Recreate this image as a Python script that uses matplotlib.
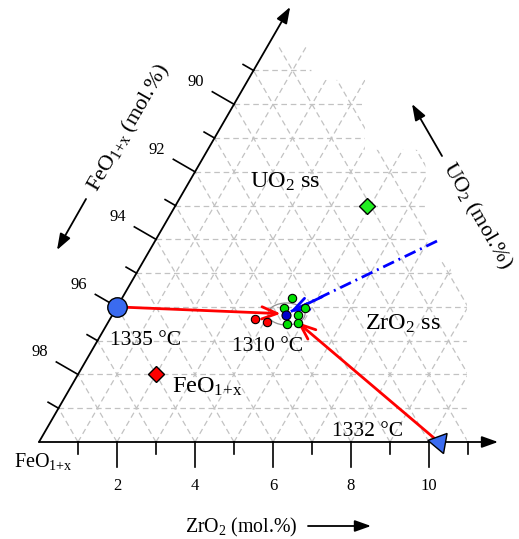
import numpy as np
import matplotlib
matplotlib.use("Agg")
import matplotlib.pyplot as plt
from matplotlib.patches import Polygon, Ellipse, FancyArrowPatch

plt.rcParams['font.family'] = ['Liberation Serif', 'DejaVu Serif']
plt.rcParams['mathtext.fontset'] = 'custom'
plt.rcParams['mathtext.rm'] = 'Liberation Serif'
plt.rcParams['mathtext.it'] = 'Liberation Serif:italic'

# ---------------- data (ZrO2 mol.%, UO2 mol.%) ----------------
zro2_ticks = [2, 4, 6, 8, 10]
zro2_tick_labels = ["2", "4", "6", "8", "10"]
uo2_ticks = [2, 4, 6, 8, 10]
feo_tick_labels = ["98", "96", "94", "92", "90"]

liquid_feo_side = (0.0, 4.0)     # blue circle, 1335 C
liquid_zro2_side = (10.25, 0.0)  # blue triangle, 1332 C
eutectic = (4.45, 3.76)          # blue dot, 1310 C
feo_phase = (2.0, 2.0)           # red diamond
uo2_phase = (4.9, 7.0)           # green diamond

green_z = [4.36, 4.29, 4.84, 4.77, 4.61, 4.89]
green_u = [4.27, 3.98, 3.96, 3.76, 3.49, 3.52]
red_z = [3.72, 4.07]
red_u = [3.64, 3.54]

arrow1_end = (4.30, 3.80)
arrow2_end = (4.85, 3.55)
blue_line_start = (7.23, 5.95)
blue_line_end = (4.51, 3.85)

FEO = r"FeO$_{\mathrm{1{+}x}}$"

# ---------------- geometry helpers ----------------
S3 = np.sqrt(3) / 2
def tern(z, u):
    z = np.asarray(z, float); u = np.asarray(u, float)
    return z + u / 2, u * S3

PX = 39.0; OX = 39.0; OY = 442.0
W, H = 519, 539
def P(x, y):  # pixel position -> data position (for layout of texts)
    return (x - OX) / PX, (OY - y) / PX

fig = plt.figure(figsize=(W / 100, H / 100), dpi=100)
ax = fig.add_axes([0, 0, 1, 1])
ax.set_xlim(-OX / PX, (W - OX) / PX)
ax.set_ylim(-(H - OY) / PX, OY / PX)
ax.axis('off')

# ---------------- grid ----------------
clip_zu = [(0, 0), (0, 11.75), (1.07, 11.75), (1.64, 10.72), (3.0, 10.72),
           (4.03, 8.65), (5.57, 8.65), (7.13, 5.69), (7.96, 5.15),
           (8.87, 4.2), (10.97, 0)]
cx, cy = tern([p[0] for p in clip_zu], [p[1] for p in clip_zu])
clip = Polygon(np.column_stack([cx, cy]), closed=True, transform=ax.transData,
               fill=False, edgecolor='none')
ax.add_patch(clip)
gkw = dict(color='#c2c2c2', lw=0.9, ls=(0, (4.5, 3)), zorder=1)
for k in range(1, 13):
    x, y = tern([0, 14], [k, k])
    l, = ax.plot(x, y, **gkw); l.set_clip_path(clip)
    x, y = tern([k, k], [0, 14])
    l, = ax.plot(x, y, **gkw); l.set_clip_path(clip)
for s in range(1, 16):
    x, y = tern([s, 0], [0, s])
    l, = ax.plot(x, y, **gkw); l.set_clip_path(clip)

# ---------------- axes ----------------
akw = dict(arrowstyle='-|>,head_length=0.7,head_width=0.25', color='black',
           lw=1.3, mutation_scale=14, shrinkA=0, shrinkB=0, zorder=3)
x0, y0 = tern(0, 0)
x1, y1 = tern(11.77, 0)
ax.add_patch(FancyArrowPatch((x0, y0), (x1, y1), **akw))
x1, y1 = tern(0, 12.88)
ax.add_patch(FancyArrowPatch((x0, y0), (x1, y1), **akw))

maj = 25 / PX; mnr = 12 / PX
for k in range(1, 12):
    L = maj if k % 2 == 0 else mnr
    x, y = tern(k, 0)
    ax.plot([x, x], [y, y - L], color='black', lw=1.2, zorder=3)
    x, y = tern(0, k)
    ax.plot([x, x - 0.866 * L], [y, y + 0.5 * L], color='black', lw=1.2, zorder=3)

for t, lab in zip(zro2_ticks, zro2_tick_labels):
    x, y = tern(t, 0)
    ax.text(x, y - 48 / PX, lab, ha='center', va='baseline', fontsize=12)
for t, lab in zip(uo2_ticks, feo_tick_labels):
    x, y = tern(0, t)
    d = 44 / PX
    ax.text(x - 0.866 * d, y + 0.5 * d, lab, ha='center', va='center', fontsize=12)

ax.text(*P(43, 467), FEO, ha='center', va='baseline', fontsize=14.5)

# axis titles with arrows
ax.text(*P(241, 532), r"ZrO$_2$ (mol.%)", ha='center', va='baseline', fontsize=14.3)
ax.add_patch(FancyArrowPatch(P(308, 526), P(371, 526), **akw))
ax.text(*P(129, 128), FEO + " (mol.%)", ha='center', va='center',
        rotation=60, rotation_mode='anchor', fontsize=16)
ax.add_patch(FancyArrowPatch(P(86, 199), P(57, 250), **akw))
ax.text(*P(477, 216), r"UO$_2$ (mol.%)", ha='center', va='center',
        rotation=-60, rotation_mode='anchor', fontsize=15.8)
ax.add_patch(FancyArrowPatch(P(442, 156), P(412, 104), **akw))

# ---------------- paths ----------------
red_kw = dict(arrowstyle='->,head_length=0.55,head_width=0.22', color='#ff0000',
              lw=2.0, mutation_scale=20, shrinkA=0, shrinkB=0, zorder=4)
ax.add_patch(FancyArrowPatch(tern(*liquid_feo_side), tern(*arrow1_end), **red_kw))
ax.add_patch(FancyArrowPatch(tern(*liquid_zro2_side), tern(*arrow2_end), **red_kw))

bx, by = tern([blue_line_start[0], blue_line_end[0]], [blue_line_start[1], blue_line_end[1]])
ax.plot(bx, by, color='#0000ff', lw=2.0, ls=(0, (4.3, 1.8, 0.7, 1.8)), zorder=4)
blue_kw = dict(arrowstyle='->,head_length=0.55,head_width=0.22', color='#0000ff',
               lw=2.0, mutation_scale=20, shrinkA=0, shrinkB=0, zorder=4)
mid = (blue_line_end[0] + 0.6, blue_line_end[1] + 0.45)
ax.add_patch(FancyArrowPatch(tern(*mid), tern(*blue_line_end), **blue_kw))

# ellipse around eutectic
ex, ey = P(286.5, 314)
ax.add_patch(Ellipse((ex, ey), 37 / PX, 22 / PX, fill=False, edgecolor='#909090',
                     lw=0.9, zorder=3))

# ---------------- points ----------------
gx, gy = tern(green_z, green_u)
ax.plot(gx, gy, 'o', ms=6, mfc='#00e000', mec='black', mew=0.8, zorder=5)
rx, ry = tern(red_z, red_u)
ax.plot(rx, ry, 'o', ms=6, mfc='#ff0000', mec='black', mew=0.8, zorder=5)
x, y = tern(*eutectic)
ax.plot(x, y, 'o', ms=6.5, mfc='#0000cc', mec='black', mew=0.8, zorder=6)

x, y = tern(*liquid_feo_side)
ax.plot(x, y, 'o', ms=14, mfc='#3a6bf0', mec='black', mew=1.0, zorder=6)
x, y = tern(*liquid_zro2_side)
ax.plot(x, y, marker=(3, 0, -40), ms=17, mfc='#3a6bf0', mec='black', mew=1.0,
        ls='none', zorder=6)
x, y = tern(*feo_phase)
ax.plot(x, y, 'D', ms=8, mfc='#ff0000', mec='black', mew=1.0, zorder=6)
x, y = tern(*uo2_phase)
ax.plot(x, y, 'D', ms=8, mfc='#22ee22', mec='black', mew=1.0, zorder=6)

# ---------------- labels ----------------
ax.text(*P(146, 345), "1335 °C", ha='center', va='baseline', fontsize=15.5)
ax.text(*P(268, 351), "1310 °C", ha='center', va='baseline', fontsize=15.5)
ax.text(*P(368, 436), "1332 °C", ha='center', va='baseline', fontsize=15.5)
ax.text(*P(285, 188), r"UO$_2$ ss", ha='center', va='baseline', fontsize=17.5)
ax.text(*P(403, 330), r"ZrO$_2$ ss", ha='center', va='baseline', fontsize=17.5)
ax.text(*P(172, 393), FEO, ha='left', va='baseline', fontsize=17.5)

fig.savefig("out.png", dpi=100)
